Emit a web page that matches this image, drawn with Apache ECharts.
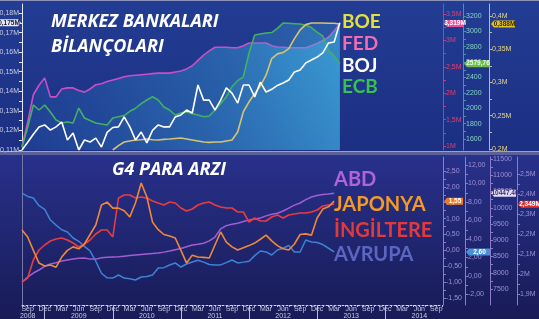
<!DOCTYPE html>
<html><head><meta charset="utf-8">
<script src="https://cdn.jsdelivr.net/npm/echarts@6/dist/echarts.min.js"></script>
<style>html,body{margin:0;padding:0;background:#1d2470;}#c{width:539px;height:319px;}</style>
</head><body><div id="c"></div>
<script>
// ---- categories (months) ----
const months = [
'2008-08','2008-09','2008-10','2008-11','2008-12',
'2009-01','2009-02','2009-03','2009-04','2009-05','2009-06','2009-07','2009-08','2009-09','2009-10','2009-11','2009-12',
'2010-01','2010-02','2010-03','2010-04','2010-05','2010-06','2010-07','2010-08','2010-09','2010-10','2010-11','2010-12',
'2011-01','2011-02','2011-03','2011-04','2011-05','2011-06','2011-07','2011-08','2011-09','2011-10','2011-11','2011-12',
'2012-01','2012-02','2012-03','2012-04','2012-05','2012-06','2012-07','2012-08','2012-09','2012-10','2012-11','2012-12',
'2013-01','2013-02','2013-03','2013-04','2013-05','2013-06','2013-07','2013-08','2013-09','2013-10','2013-11','2013-12',
'2014-01','2014-02','2014-03','2014-04','2014-05','2014-06','2014-07','2014-08','2014-09','2014-10'];
const monthNames = {'01':'Jan','02':'Feb','03':'Mar','04':'Apr','05':'May','06':'Jun','07':'Jul','08':'Aug','09':'Sep','10':'Oct','11':'Nov','12':'Dec'};

// ---- top panel: central bank balance sheets ----
const fed = [0.98,1.45,1.97,2.15,2.29,1.93,1.93,2.08,2.10,2.10,2.05,2.02,2.08,2.16,2.18,2.22,2.25,2.28,2.31,2.33,2.34,2.35,2.36,2.37,2.38,2.38,2.38,2.40,2.42,2.46,2.52,2.62,2.72,2.80,2.87,2.87,2.87,2.86,2.86,2.90,2.95,2.95,2.95,2.95,2.90,2.875,2.87,2.86,2.86,2.86,2.86,2.90,2.94,3.00,3.06,3.18,3.319];
const ecb = [1496,1750,2042,1977,2042,1951,1847,1808,1821,1808,2003,1873,1840,1808,1795,1782,1873,1890,1905,1960,2000,2060,2107,2150,2107,2016,1977,1912,1938,1951,1930,1912,1890,1900,1977,2060,2146,2280,2360,2406,2718,2952,2965,2978,2985,3040,3108,3105,3100,3095,3080,3050,2991,2940,2757,2680,2579.76];
const boj = [0.110,0.114,0.118,0.1218,0.1228,0.1202,0.1218,0.1243,0.1151,0.1187,0.110,0.1151,0.1141,0.1161,0.1115,0.1190,0.1215,0.1218,0.1269,0.1218,0.1151,0.1192,0.1136,0.1200,0.1228,0.1218,0.1218,0.1269,0.1279,0.1304,0.1289,0.1432,0.1355,0.1355,0.1304,0.1355,0.1417,0.1391,0.1340,0.1432,0.1432,0.1371,0.1447,0.1396,0.1410,0.1430,0.1442,0.1458,0.1499,0.1509,0.1545,0.1560,0.1575,0.1596,0.1647,0.1652,0.175];
const boe = [null,null,null,null,null,null,null,null,null,null,null,null,null,null,null,null,
0.1985,0.205,0.2105,0.212,0.2135,0.214,0.215,0.214,0.2135,0.2145,0.215,0.2158,0.2165,0.215,0.2135,0.212,0.2105,0.210,0.2105,0.2105,0.212,0.2135,0.2256,0.256,0.271,0.283,0.295,0.311,0.336,0.343,0.345,0.351,0.366,0.379,0.387,0.3895,0.3895,0.3895,0.389,0.389,0.388];

// ---- bottom panel: G4 money supply ----
const abd = [7715,7869,7992,8085,8200,8270,8310,8360,8392,8423,8445,8454,8420,8420,8460,8480,8485,8490,8510,8530,8545,8560,8575,8590,8605,8635,8669,8710,8745,8800,8854,8880,8910,8980,9100,9350,9450,9490,9525,9575,9623,9655,9685,9750,9800,9830,9900,9990,10080,10146,10250,10330,10380,10410,10423,10447.4];
const japonya = [0.64,0.42,0.0,-0.4,-0.49,-0.46,-0.53,-0.21,0.0,0.11,0.05,0.2,0.5,0.8,1.43,1.52,1.33,1.33,1.25,1.05,1.5,2.12,1.68,0.89,0.65,0.5,0.45,0.39,0.0,-0.4,-0.15,-0.21,-0.22,-0.24,0.17,0.58,0.26,0.11,0.01,0.08,0.15,0.23,0.35,0.48,0.3,0.15,0.05,0.01,0.2,0.5,0.52,0.48,1.02,1.3,1.37,1.55];
const ingiltere = [1.96,1.98,2.07,2.12,2.145,2.165,2.175,2.18,2.17,2.155,2.135,2.15,2.17,2.2,2.22,2.22,2.185,2.38,2.395,2.395,2.38,2.385,2.38,2.365,2.355,2.345,2.36,2.355,2.33,2.315,2.325,2.345,2.355,2.36,2.345,2.335,2.33,2.33,2.31,2.31,2.26,2.28,2.265,2.265,2.285,2.295,2.28,2.295,2.30,2.305,2.305,2.31,2.32,2.34,2.345,2.349];
const avrupa = [8.97,8.6,8.43,7.6,7.2,6.05,5.5,5.0,4.76,4.11,3.75,3.2,2.7,1.6,0.3,-0.2,-0.22,0.11,-0.22,-0.3,-0.43,-0.11,-0.05,0.1,0.86,0.9,1.19,1.41,0.97,1.3,1.51,1.7,1.5,1.25,1.19,1.2,1.45,1.73,1.41,1.5,1.6,2.2,2.7,2.6,2.27,2.81,3.0,3.3,2.59,2.6,3.89,3.68,3.62,3.4,3.0,2.6];

// ---- tick label values ----
const bojTicks = [0.11,0.12,0.13,0.14,0.15,0.16,0.17,0.18];
const fedTicks = [1,1.5,2,2.5,3,3.5];
const ecbTicks = [1600,1800,2000,2200,2400,2600,2800,3000,3200];
const boeTicks = [0.2,0.25,0.3,0.35,0.4];
const jpTicks = [-1.5,-1,-0.5,0,0.5,1,1.5,2,2.5];
const euTicks = [-2,0,2,4,6,8,10,12];
const usTicks = [7500,8000,8500,9000,9500,10000,10500,11000,11500];
const ukTicks = [1.9,2.0,2.1,2.2,2.3,2.4,2.5];

const comma = (v,d) => v.toFixed(d).replace('.',',');
const short = v => String(+v.toFixed(3)).replace('.',',');
const mids = arr => { const r = arr.slice(); for (let i=0;i<arr.length-1;i++) r.push((arr[i]+arr[i+1])/2); return r; };

const chart = echarts.init(document.getElementById('c'), null, {renderer:'canvas'});
const LF = '"Liberation Sans", Arial, sans-serif';

function yAx(o) {
  return {
    type:'value', gridIndex:o.grid, position:o.pos, offset:o.offset||0, min:o.min, max:o.max,
    splitLine:{show:false},
    axisLine:{show:true, onZero:false, lineStyle:{color:o.line, width:1}},
    axisTick:{show:true, length:3, customValues:mids(o.ticks), lineStyle:{color:o.line}},
    axisLabel:{show:true, customValues:o.ticks, formatter:o.fmt, fontSize:7, fontFamily:LF, color:o.lab, margin:3}
  };
}

const option = {
  animation:false,
  backgroundColor:'#1d2470',
  grid:[
    {left:22, right:97, top:4, height:146, outerBoundsMode:'none'},
    {left:22, right:97, top:157, height:148, outerBoundsMode:'none'}
  ],
  xAxis:[
    {type:'category', gridIndex:0, data:months, boundaryGap:false, show:false, axisLine:{onZero:false}},
    {type:'category', gridIndex:1, data:months, boundaryGap:false, position:'bottom',
      axisLine:{show:true, onZero:false, lineStyle:{color:'#d4d6f0', type:[2,2], width:1}},
      axisTick:{show:true, length:14, interval:(i,v)=>v.slice(5)==='12', lineStyle:{color:'#b8b8e0'}},
      axisLabel:{show:true, interval:(i,v)=>['03','06','09','12'].includes(v.slice(5)),
        formatter:v=>{const y=v.slice(0,4), m=v.slice(5); return (m==='06'||v==='2008-09') ? monthNames[m]+'\n'+y : monthNames[m];},
        fontSize:7, fontFamily:LF, color:'#c8cae8', lineHeight:7, margin:1}
    },
    {type:'category', gridIndex:1, data:months, boundaryGap:false, position:'bottom',
      axisLine:{show:false, onZero:false}, axisLabel:{show:false},
      axisTick:{show:true, length:2, interval:0, lineStyle:{color:'#c0c2e4'}}}
  ],
  yAxis:[
    yAx({grid:0,pos:'left',min:0.11,max:0.1846,line:'#e4e6f2',lab:'#c9cde2',ticks:bojTicks,fmt:v=>comma(v,2)+'M'}),
    yAx({grid:0,pos:'right',offset:1,min:0.924,max:3.689,line:'#e0306c',lab:'#e2406e',ticks:fedTicks,fmt:v=>short(v)+'M'}),
    yAx({grid:0,pos:'right',offset:21,min:1457,max:3356,line:'#3b9c9c',lab:'#86d4c4',ticks:ecbTicks,fmt:v=>String(v)}),
    yAx({grid:0,pos:'right',offset:47,min:0.1985,max:0.418,line:'#bdb8a2',lab:'#e6d88a',ticks:boeTicks,fmt:v=>short(v)+'M'}),
    yAx({grid:1,pos:'right',offset:1,min:-1.72,max:2.94,line:'#8a7ccc',lab:'#9e90d8',ticks:jpTicks,fmt:v=>comma(v,2)}),
    yAx({grid:1,pos:'right',offset:23,min:-3.135,max:12.865,line:'#8a7ccc',lab:'#9e90d8',ticks:euTicks,fmt:v=>comma(v,2)}),
    yAx({grid:1,pos:'right',offset:48,min:7008,max:11562,line:'#8a7ccc',lab:'#9e90d8',ticks:usTicks,fmt:v=>String(v)}),
    yAx({grid:1,pos:'right',offset:75,min:1.845,max:2.585,line:'#8a7ccc',lab:'#9e90d8',ticks:ukTicks,fmt:v=>short(v)+'M'})
  ],
  series:[
    {name:'FED', type:'line', xAxisIndex:0, yAxisIndex:1, data:fed, showSymbol:false, z:3,
      lineStyle:{color:'#cc4ec4', width:1.6},
      areaStyle:{color:new echarts.graphic.LinearGradient(0,1,1,0,[{offset:0,color:'rgba(32,72,160,0.55)'},{offset:1,color:'rgba(62,185,232,0.75)'}])}},
    {name:'ECB', type:'line', xAxisIndex:0, yAxisIndex:2, data:ecb, showSymbol:false, z:4,
      lineStyle:{color:'#42b060', width:1.6},
      areaStyle:{color:new echarts.graphic.LinearGradient(0,1,1,0,[{offset:0,color:'rgba(40,90,170,0.15)'},{offset:1,color:'rgba(70,190,235,0.45)'}])}},
    {name:'BOE', type:'line', xAxisIndex:0, yAxisIndex:3, data:boe, showSymbol:false, z:4,
      lineStyle:{color:'#d8c274', width:1.6},
      areaStyle:{color:new echarts.graphic.LinearGradient(0,1,1,0,[{offset:0,color:'rgba(40,90,170,0.1)'},{offset:1,color:'rgba(70,190,235,0.35)'}])}},
    {name:'BOJ', type:'line', xAxisIndex:0, yAxisIndex:0, data:boj, showSymbol:false, z:5,
      lineStyle:{color:'#ffffff', width:1.6}},
    {name:'ABD', type:'line', xAxisIndex:1, yAxisIndex:6, data:abd, showSymbol:false, lineStyle:{color:'#a05ed2', width:1.5}},
    {name:'AVRUPA', type:'line', xAxisIndex:1, yAxisIndex:5, data:avrupa, showSymbol:false, lineStyle:{color:'#3e82d6', width:1.5}},
    {name:'INGILTERE', type:'line', xAxisIndex:1, yAxisIndex:7, data:ingiltere, showSymbol:false, lineStyle:{color:'#e83c40', width:1.6}},
    {name:'JAPONYA', type:'line', xAxisIndex:1, yAxisIndex:4, data:japonya, showSymbol:false, lineStyle:{color:'#f0883a', width:1.6}}
  ]
};
chart.setOption(option);

// ---- decorations and value tags ----
const TF = '"Open Sans", Lato, sans-serif';
const g = [];
g.push({type:'rect', shape:{x:0,y:0,width:539,height:151}, z:-10,
  style:{fill:new echarts.graphic.LinearGradient(0,0,0,1,[{offset:0,color:'#223d93'},{offset:1,color:'#1c2f82'}])}});
g.push({type:'rect', shape:{x:0,y:155,width:539,height:164}, z:-10,
  style:{fill:new echarts.graphic.LinearGradient(0,0,0,1,[{offset:0,color:'#28318b'},{offset:1,color:'#181b56'}])}});
g.push({type:'rect', shape:{x:0,y:151,width:539,height:4}, z:-9, style:{fill:'#5b6196'}});
g.push({type:'rect', shape:{x:0,y:151,width:539,height:1}, z:-9, style:{fill:'#9aa0c8'}});
g.push({type:'rect', shape:{x:0,y:0,width:539,height:1}, z:-9, style:{fill:'#8c92bc'}});
g.push({type:'rect', shape:{x:22,y:155,width:1,height:150}, z:-9, style:{fill:'#7478a8'}});

function txt(t,x,y,color,size,italic,ff){
  g.push({type:'text', x:x, y:y, z:50, style:{text:t, fill:color, font:(italic?'italic ':'')+'bold '+size+'px '+(ff||TF), textVerticalAlign:'top', verticalAlign:'top'}});
}
const LT = 'Lato, "Open Sans", sans-serif';
txt('MERKEZ BANKALARI',51,13,'#ffffff',18,true);
txt('BİLANÇOLARI',51,38,'#ffffff',18,true);
txt('BOE',342,12,'#e2e03e',19,false,LT);
txt('FED',342,34,'#f26cb2',19,false,LT);
txt('BOJ',342,56,'#ffffff',19,false,LT);
txt('ECB',342,77,'#38c050',19,false,LT);
txt('G4 PARA ARZI',112,161,'#ffffff',18,true);
txt('ABD',334,170,'#b262da',20,false,LT);
txt('JAPONYA',334,195,'#f39a25',20,false,LT);
txt('İNGİLTERE',334,221,'#e23a3a',20,false,LT);
txt('AVRUPA',334,245,'#5a66c2',20,false,LT);

function tag(yIdx, val, label, x0, w, bg, fg, pointLeft){
  const y = chart.convertToPixel({yAxisIndex:yIdx}, val);
  const h = 7;
  const pts = pointLeft
    ? [[x0,y],[x0+3,y-h/2],[x0+w,y-h/2],[x0+w,y+h/2],[x0+3,y+h/2]]
    : [[x0+w,y],[x0+w-3,y-h/2],[x0,y-h/2],[x0,y+h/2],[x0+w-3,y+h/2]];
  g.push({type:'polygon', shape:{points:pts}, z:100, style:{fill:bg}});
  g.push({type:'text', x:x0+w/2+(pointLeft?1.5:-1.5), y:y, z:101,
    style:{text:label, fill:fg, font:'bold 6.5px '+LF, textAlign:'center', align:'center', textVerticalAlign:'middle', verticalAlign:'middle'}});
}
tag(1, fed[fed.length-1], comma(fed[fed.length-1],3)+'M', 444, 19, '#e8509a', '#ffffff', true);
tag(2, ecb[ecb.length-1], comma(ecb[ecb.length-1],2), 464, 25, '#6cc04a', '#eaffe0', true);
tag(3, boe[boe.length-1], comma(boe[boe.length-1],3)+'M', 491, 24, '#e0c228', '#3a2a00', true);
tag(0, boj[boj.length-1], comma(boj[boj.length-1],3)+'M', 0, 21, '#e8e8f2', '#202040', false);
tag(4, japonya[japonya.length-1], comma(japonya[japonya.length-1],2), 444, 19, '#f07a20', '#ffffff', true);
tag(5, avrupa[avrupa.length-1], comma(avrupa[avrupa.length-1],2), 466, 24, '#4a90d8', '#ffffff', true);
tag(6, abd[abd.length-1], abd[abd.length-1].toFixed(2), 491, 25, '#e0dcf4', '#40306a', true);
tag(7, ingiltere[ingiltere.length-1], comma(ingiltere[ingiltere.length-1],3)+'M', 518, 21, '#e03030', '#ffffff', true);

chart.setOption({graphic:{elements:g}});
</script>
</body></html>
